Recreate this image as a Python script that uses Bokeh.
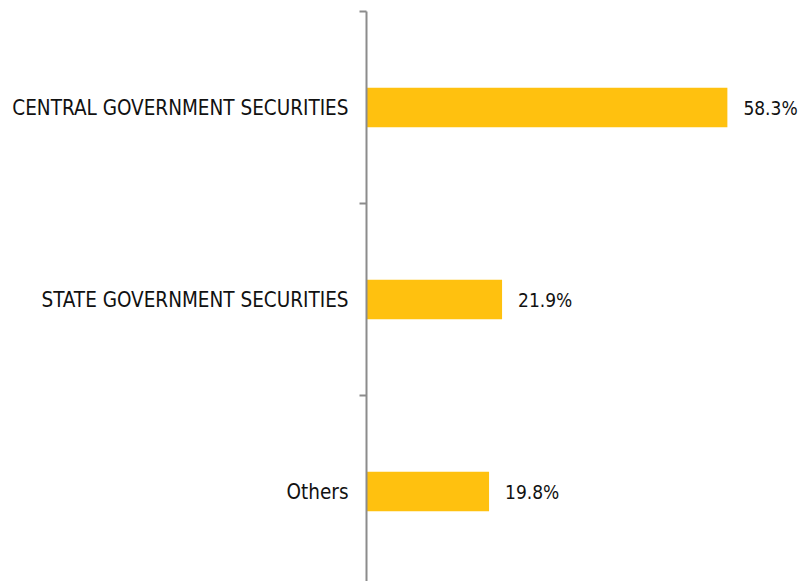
from bokeh.plotting import figure
from bokeh.models import Range1d, FixedTicker, ColumnDataSource, LabelSet
from bokeh.core.properties import value
from bokeh.embed import file_html
from bokeh.resources import INLINE

categories = ["CENTRAL GOVERNMENT SECURITIES", "STATE GOVERNMENT SECURITIES", "Others"]
values = [58.3, 21.9, 19.8]
value_labels = ["58.3%", "21.9%", "19.8%"]

n = len(categories)
centers = [n - i - 0.5 for i in range(n)]

src = ColumnDataSource(dict(y=centers, v=values, lab=value_labels))

FONT = "DejaVu Sans Condensed"
W, H = 798, 581
TOP, LEFT = 11, 366
band = 192.0
p = figure(width=W, height=H, output_backend="svg", toolbar_location=None,
           x_range=Range1d(0, (W - LEFT) / 6.19),
           y_range=Range1d(n - (H - TOP) / band, n),
           min_border_left=LEFT, min_border_right=0, min_border_top=TOP, min_border_bottom=0)
p.outline_line_color = None
p.xgrid.visible = False
p.ygrid.visible = False
p.xaxis.visible = False

p.hbar(y="y", right="v", left=0, height=0.205, source=src, color="#FFC10F", line_color=None)

labels = LabelSet(x="v", y="y", text="lab", source=src, x_offset=16, y_offset=0,
                  text_baseline="middle", text_align="left", text_font=value(FONT),
                  text_font_size=value("19px"), text_color="#111111")
p.add_layout(labels)

yax = p.yaxis[0]
yax.ticker = FixedTicker(ticks=centers, minor_ticks=list(range(n + 1)))
yax.major_label_overrides = {c: categories[i] for i, c in enumerate(centers)}
yax.major_tick_out = 0
yax.major_tick_in = 0
yax.minor_tick_out = 7
yax.minor_tick_in = 0
yax.minor_tick_line_color = "#8c8c8c"
yax.minor_tick_line_width = 2
yax.axis_line_color = "#8c8c8c"
yax.axis_line_width = 2
yax.major_label_standoff = 11
yax.major_label_text_font = FONT
yax.major_label_text_font_size = "20.5px"
yax.major_label_text_color = "#111111"

open("out.html", "w").write(file_html(p, INLINE))
